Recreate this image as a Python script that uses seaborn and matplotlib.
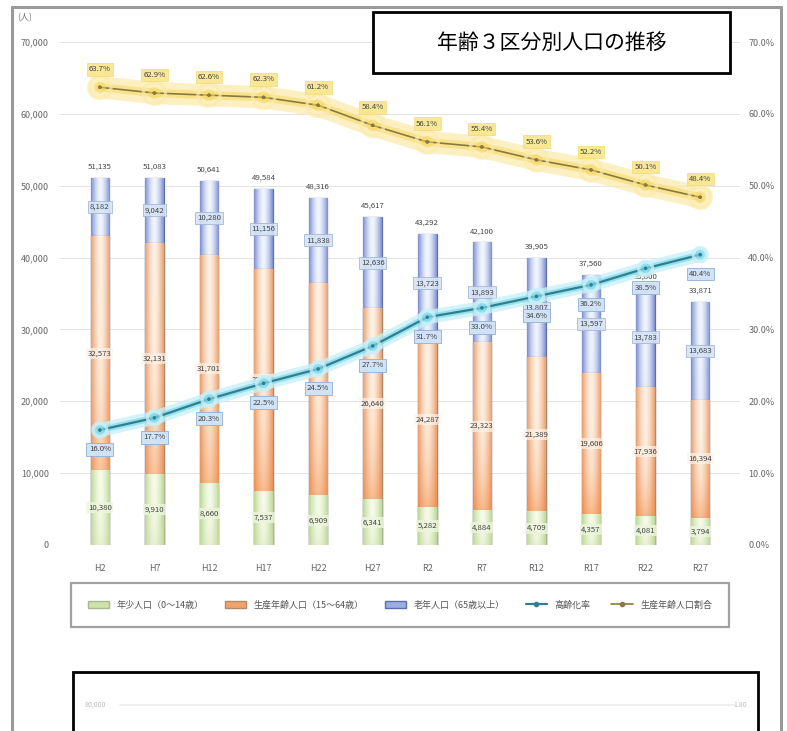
import numpy as np
import pandas as pd
import matplotlib
matplotlib.use("Agg")
import matplotlib.pyplot as plt
import matplotlib.patheffects as pe
from matplotlib.patches import Rectangle, Patch
from matplotlib.lines import Line2D
from matplotlib.colors import to_rgb
import seaborn as sns

# ---------------- data ----------------
years = ["H2", "H7", "H12", "H17", "H22", "H27", "R2", "R7", "R12", "R17", "R22", "R27"]
young = [10380, 9910, 8660, 7537, 6909, 6341, 5282, 4884, 4709, 4357, 4081, 3794]
working = [32573, 32131, 31701, 30891, 29569, 26640, 24287, 23323, 21389, 19606, 17936, 16394]
elderly = [8182, 9042, 10280, 11156, 11838, 12636, 13723, 13893, 13807, 13597, 13783, 13683]
aging_rate = [16.0, 17.7, 20.3, 22.5, 24.5, 27.7, 31.7, 33.0, 34.6, 36.2, 38.5, 40.4]
working_rate = [63.7, 62.9, 62.6, 62.3, 61.2, 58.4, 56.1, 55.4, 53.6, 52.2, 50.1, 48.4]
legend_labels = ["年少人口（0～14歳）", "生産年齢人口（15～64歳）", "老年人口（65歳以上）",
                 "高齢化率", "生産年齢人口割合"]
title = "年齢３区分別人口の推移"

df = pd.DataFrame({"year": years, "young": young, "working": working, "elderly": elderly,
                   "aging": aging_rate, "wrate": working_rate})
df["pos"] = range(len(df))
df["lower2"] = df["young"] + df["working"]
df["total"] = df["lower2"] + df["elderly"]

sns.set_theme(style="white")
plt.rcParams["font.family"] = ["Noto Sans CJK JP", "DejaVu Sans"]

W, H = 787, 731
fig = plt.figure(figsize=(W / 100, H / 100), dpi=100)
fig.patch.set_facecolor("white")
ax = fig.add_axes([60 / W, 1 - 545 / H, 680 / W, 503 / H])
ax.set_facecolor("white")

BW = 0.34


def gradient(edge, center, strong, n=48, m=48, power=1.6, vpow=2.5, vamt=0.6):
    e, c, s = np.array(to_rgb(edge)), np.array(to_rgb(center)), np.array(to_rgb(strong))
    xs = np.abs(np.linspace(-1, 1, n)) ** power
    ys = np.linspace(0, 1, m)
    img = np.zeros((m, n, 3))
    for j, yv in enumerate(ys):
        row = c[None, :] * (1 - xs[:, None]) + e[None, :] * xs[:, None]
        w = vamt * (1 - yv) ** vpow
        img[j] = row * (1 - w) + s[None, :] * w
    return img


layers = [
    ("total", "#9aaee0", "#5f6fa8", gradient("#7d8fd0", "#f1f6ff", "#6f6fc8"), 2.0),
    ("lower2", "#f2a36a", "#b08a6a", gradient("#e8a070", "#fff1e4", "#f07a2a", vamt=0.85, vpow=3), 2.2),
    ("young", "#cfe3a8", "#a8b890", gradient("#bcd896", "#f6fbea", "#c8d8a0", vamt=0.3), 2.4),
]
for col, fc, ec, img, z in layers:
    sns.barplot(data=df, x="year", y=col, order=years, color=fc, saturation=1,
                width=BW, errorbar=None, edgecolor=ec, linewidth=0.9, ax=ax)
    for p in ax.containers[-1]:
        p.set_zorder(z)
        x0, y0 = p.get_x(), p.get_y()
        im = ax.imshow(img, extent=(x0, x0 + p.get_width(), y0, y0 + p.get_height()),
                       origin="lower", aspect="auto", interpolation="bilinear", zorder=z + 0.05)
        im.set_clip_path(p)

ax.set_xlim(-0.73, len(years) - 1 + 0.73)
ax.set_ylim(0, 70000)
ax.set_yticks(np.arange(0, 70001, 10000))
ax.set_yticklabels([f"{v:,}" for v in range(0, 70001, 10000)])
ax.set_xlabel("")
ax.set_ylabel("")
ax.grid(axis="y", color="#e4e4e4", linewidth=0.7)
ax.set_axisbelow(True)
for s in ax.spines.values():
    s.set_visible(False)
ax.tick_params(axis="y", length=0, labelsize=6.5, labelcolor="#666666", pad=8)
ax.tick_params(axis="x", length=0, labelsize=6.5, labelcolor="#666666", pad=14)

# ------------- lines on right axis -------------
ax2 = ax.twinx()
ax2.set_ylim(0, 70)
ax2.set_yticks(np.arange(0, 71, 10))
ax2.set_yticklabels([f"{v:.1f}%" for v in range(0, 71, 10)])
for s in ax2.spines.values():
    s.set_visible(False)
ax2.tick_params(axis="y", length=0, labelsize=6.5, labelcolor="#666666", pad=6)

sns.lineplot(data=df, x="pos", y="wrate", color="#8a7a40", linewidth=1.2, marker="o",
             markersize=2.5, markeredgewidth=0, sort=False, ax=ax2, zorder=5)
ax2.lines[-1].set_path_effects([pe.Stroke(linewidth=16, foreground="#fcebaa", alpha=0.7),
                                pe.Stroke(linewidth=6, foreground="#f6d860", alpha=0.55), pe.Normal()])
sns.lineplot(data=df, x="pos", y="aging", color="#2f7f90", linewidth=1.6, marker="o",
             markersize=2.5, markeredgewidth=0, sort=False, ax=ax2, zorder=5)
ax2.lines[-1].set_path_effects([pe.Stroke(linewidth=10, foreground="#c6f0f8", alpha=0.8),
                                pe.Stroke(linewidth=4.5, foreground="#7fd8ea", alpha=0.7), pe.Normal()])
ax2.set_xlim(ax.get_xlim())
ax2.set_xlabel("")
ax2.set_ylabel("")
ax2.grid(False)

# ------------- data labels -------------
FS = 5.6
TC = "#444444"
for i, r in df.iterrows():
    ax.annotate(f"{r['total']:,}", (i, r["total"]), xytext=(0, 8), textcoords="offset points",
                ha="center", va="center", fontsize=FS, color=TC, zorder=6)
    ax.text(i, r["lower2"] + r["elderly"] / 2, f"{r['elderly']:,}", ha="center", va="center",
            fontsize=FS, color=TC, zorder=6,
            bbox=dict(boxstyle="square,pad=0.25", fc="#d6e4f6", ec="#9fb3d6", lw=0.6, alpha=0.9))
    ax.text(i, r["young"] + r["working"] / 2, f"{r['working']:,}", ha="center", va="center",
            fontsize=FS, color=TC, zorder=6,
            bbox=dict(boxstyle="square,pad=0.2", fc="#fbf3ea", ec="none", alpha=0.7))
    ax.text(i, r["young"] / 2, f"{r['young']:,}", ha="center", va="center",
            fontsize=FS, color=TC, zorder=6,
            bbox=dict(boxstyle="square,pad=0.2", fc="#eef5dd", ec="none", alpha=0.8))
    ax2.annotate(f"{r['aging']:.1f}%", (i, r["aging"]), xytext=(0, -14), textcoords="offset points",
                 ha="center", va="center", fontsize=FS, color=TC, zorder=7,
                 bbox=dict(boxstyle="square,pad=0.3", fc="#cfe2f6", ec="#8fb0d8", lw=0.6))
    ax2.annotate(f"{r['wrate']:.1f}%", (i, r["wrate"]), xytext=(0, 13), textcoords="offset points",
                 ha="center", va="center", fontsize=FS, color=TC, zorder=7,
                 bbox=dict(boxstyle="square,pad=0.3", fc="#f8e68a", ec="#f1d870", lw=0.5, alpha=0.9))

fig.text(25 / W, 1 - 18 / H, "(人)", fontsize=6.5, color="#777777", ha="center", va="center")

# ------------- legend -------------
handles = [Patch(fc="#cfe3a8", ec="#a8b890"), Patch(fc="#f2a36a", ec="#b08a6a"),
           Patch(fc="#9aaee0", ec="#5f6fa8"),
           Line2D([], [], color="#2f7f90", lw=1.6, marker="o", ms=3),
           Line2D([], [], color="#8a7a40", lw=1.2, marker="o", ms=3)]
leg = fig.legend(handles, legend_labels, loc="center",
                 bbox_to_anchor=(66 / W, 1 - 628 / H, 668 / W, 46 / H), mode="expand",
                 ncol=5, fontsize=6.5, frameon=True, fancybox=False, edgecolor="#8a8a8a",
                 handlelength=2.4, borderpad=1.9, columnspacing=1.0)
leg.get_frame().set_linewidth(1.6)
for t in leg.get_texts():
    t.set_color("#555555")

# ------------- title box -------------
fig.patches.append(Rectangle((373 / W, 1 - 73 / H), 357 / W, 61 / H, transform=fig.transFigure,
                             fc="white", ec="black", lw=2, zorder=10))
fig.text((373 + 730) / 2 / W, 1 - 43 / H, title, fontsize=15, color="black",
         ha="center", va="center", zorder=11)

# ------------- page frame -------------
fr = "#9a9a9a"
fig.lines.append(Line2D([12 / W, 12 / W], [0, 1 - 7 / H], transform=fig.transFigure, color=fr, lw=2.2))
fig.lines.append(Line2D([12 / W, 781 / W], [1 - 7 / H, 1 - 7 / H], transform=fig.transFigure, color=fr, lw=2.2))
fig.lines.append(Line2D([781 / W, 781 / W], [0, 1 - 7 / H], transform=fig.transFigure, color=fr, lw=2.2))

# ------------- lower (cut-off) chart box -------------
fig.patches.append(Rectangle((73 / W, -0.02), 685 / W, (731 - 672) / H + 0.02, transform=fig.transFigure,
                             fc="white", ec="black", lw=2, zorder=10))
fig.lines.append(Line2D([120 / W, 735 / W], [1 - 705 / H, 1 - 705 / H], transform=fig.transFigure,
                        color="#ececec", lw=1.2, zorder=11))
fig.text(95 / W, 1 - 705 / H, "80,000", fontsize=5, color="#bbbbbb", ha="center", va="center", zorder=11)
fig.text(740 / W, 1 - 705 / H, "1.80", fontsize=5, color="#bbbbbb", ha="center", va="center", zorder=11)

fig.savefig("out.png", dpi=100)
